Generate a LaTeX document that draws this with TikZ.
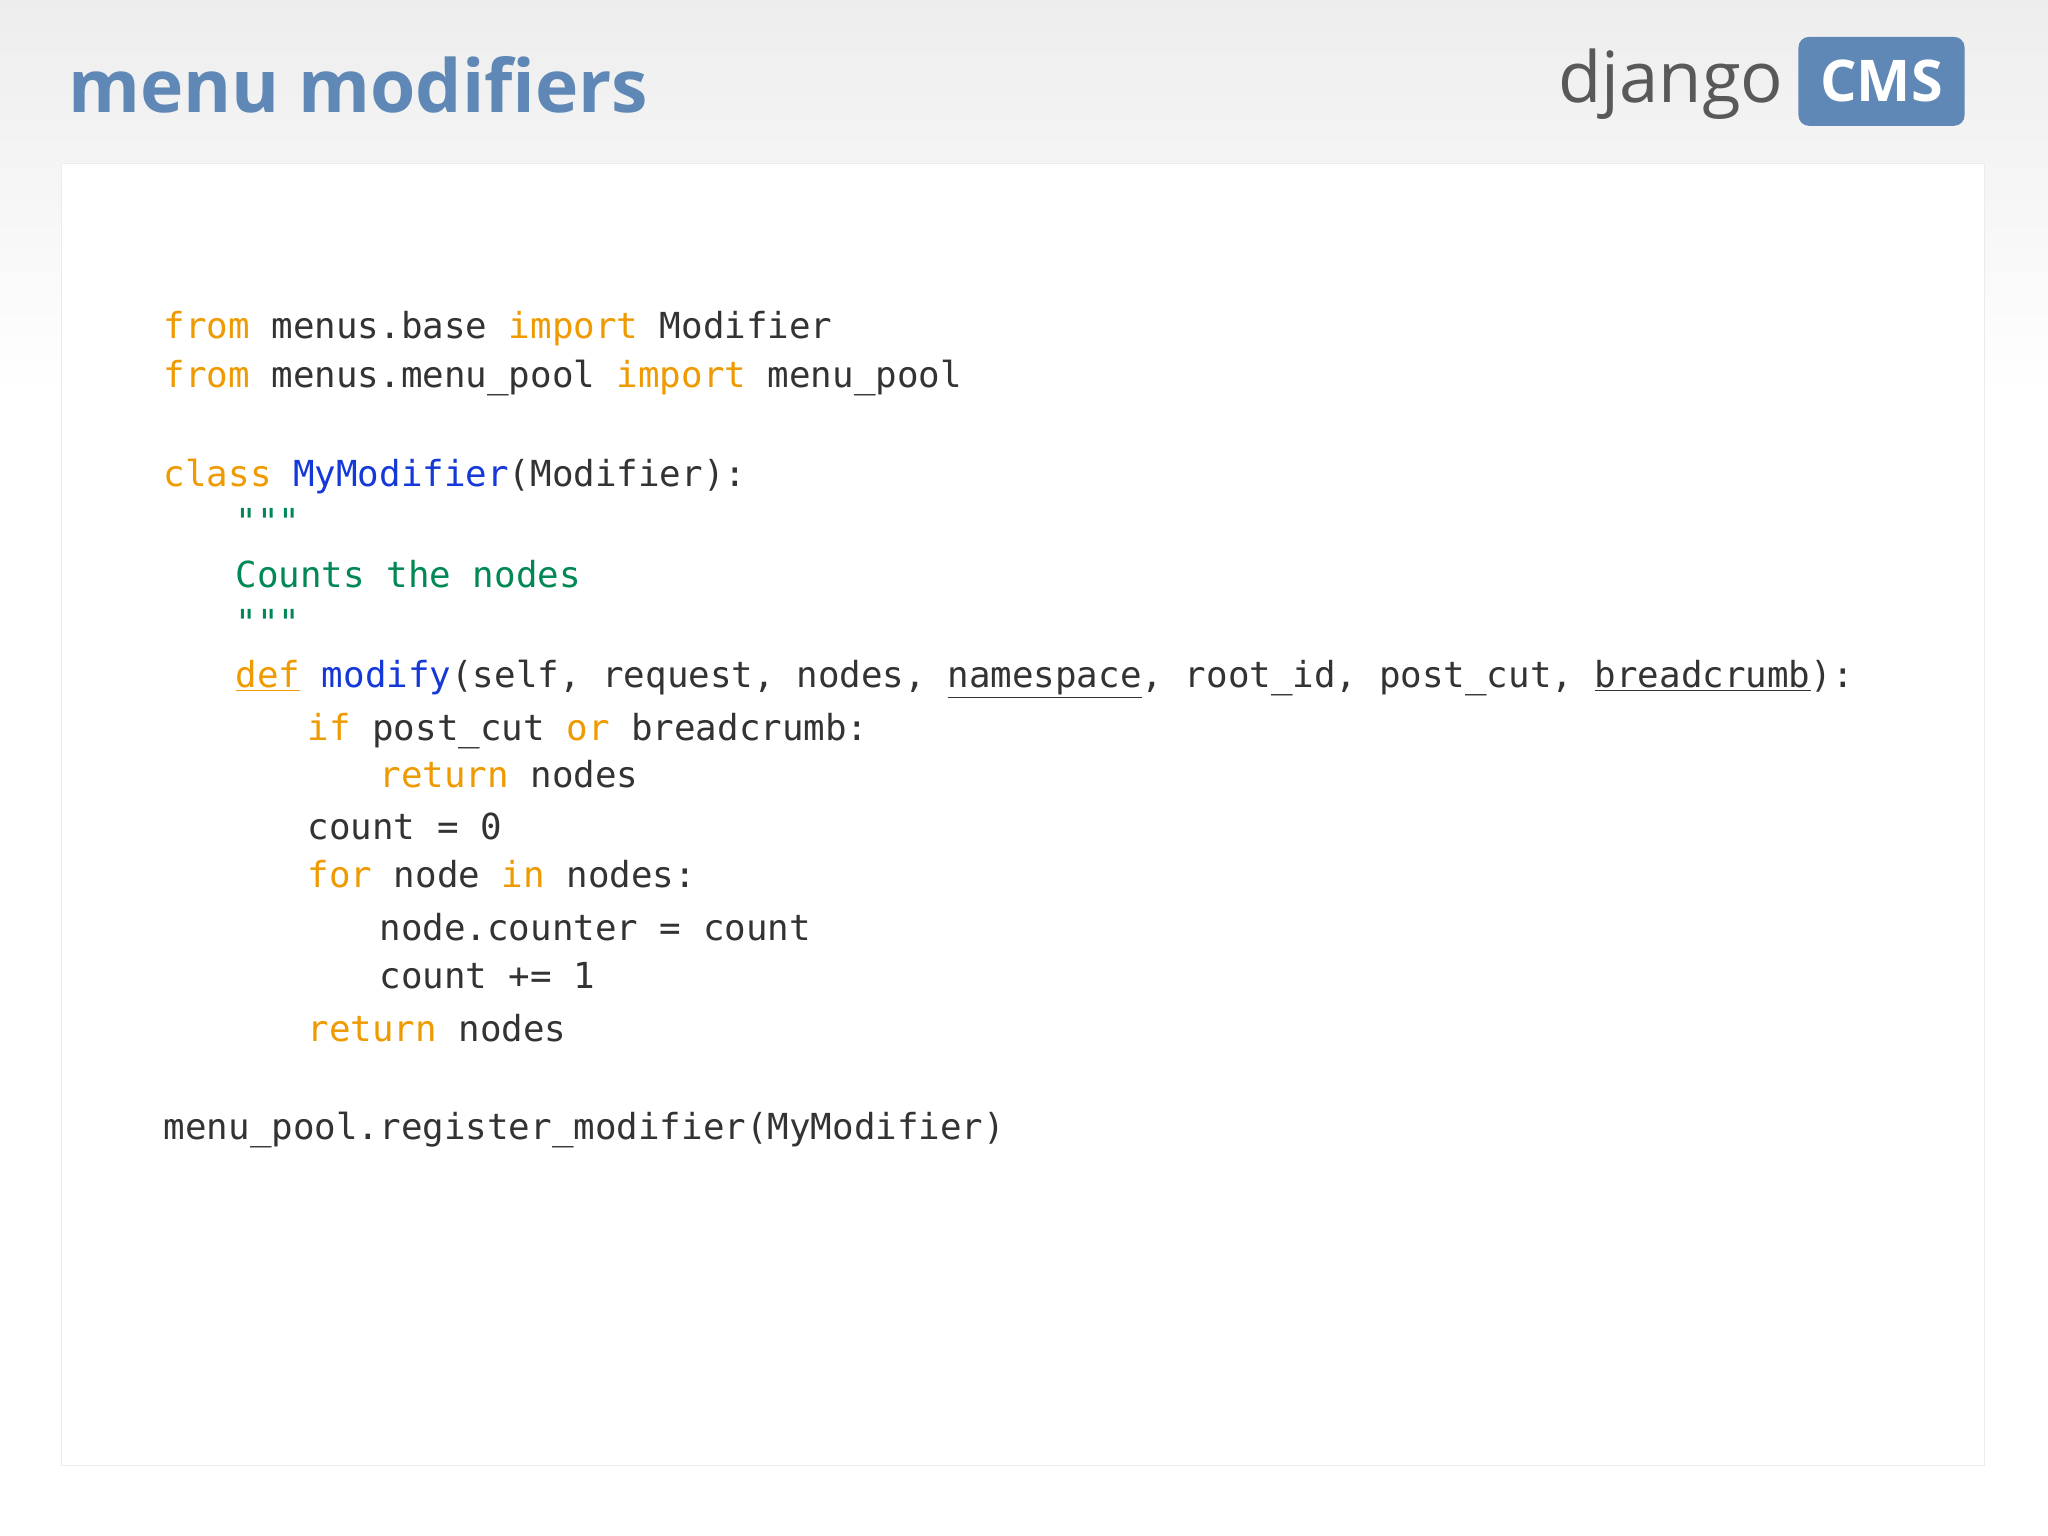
\documentclass[tikz,border=0pt]{standalone}
\usepackage{fontspec}
\setmainfont{Open Sans}
\newfontfamily\codefont{DejaVu Sans Mono}
\begin{document}
\begin{tikzpicture}[x=1pt,y=-1pt,
  code/.style={anchor=base west,inner sep=0pt,font=\codefont\fontsize{27.4}{30}\selectfont,text=txt},
]
\definecolor{txt}{HTML}{333333}
\definecolor{kw}{HTML}{EE9A00}
\definecolor{cls}{HTML}{1538D8}
\definecolor{doc}{HTML}{008855}
\definecolor{ttl}{HTML}{5F88B6}
\useasboundingbox (0,0) rectangle (1566,1174);
\shade[top color=black!7,bottom color=white] (0,0) rectangle (1566,300);
\fill[white] (0,300) rectangle (1566,1174);
\node[draw=black!8,fill=white,minimum width=1470,minimum height=995,anchor=north west,inner sep=0pt] (panel) at (47,125) {};
\node[anchor=base west,inner sep=0pt,font=\bfseries\fontsize{56}{60}\selectfont,text=ttl] (title) at (52,86) {menu modifiers};
\node[anchor=base east,inner sep=0pt,font=\fontsize{54}{58}\selectfont,text=black!65] (dj) at (1364,78) {django};
\node[anchor=north west,fill=ttl,rounded corners=8,minimum width=127,minimum height=68,inner sep=0pt,text=white,font=\bfseries\fontsize{44}{48}\selectfont] (cms) at (1375,28) {CMS};
\node[code] (l1) at (125,259) {\textcolor{kw}{from} menus.base \textcolor{kw}{import} Modifier};
\node[code] (l2) at (125,296) {\textcolor{kw}{from} menus.menu\_pool \textcolor{kw}{import} menu\_pool};
\node[code] (l3) at (125,372) {\textcolor{kw}{class} \textcolor{cls}{MyModifier}(Modifier):};
\node[code,text=doc] (l4) at (180,409) {"""};
\node[code,text=doc] (l5) at (180,449) {Counts the nodes};
\node[code,text=doc] (l6) at (180,486) {"""};
\node[code] (l7) at (180,526) {\textcolor{kw}{\underline{def}} \textcolor{cls}{modify}(self, request, nodes, \underline{namespace}, root\_id, post\_cut, \underline{breadcrumb}):};
\node[code] (l8) at (235,566) {\textcolor{kw}{if} post\_cut \textcolor{kw}{or} breadcrumb:};
\node[code] (l9) at (290,602) {\textcolor{kw}{return} nodes};
\node[code] (l10) at (235,642) {count = 0};
\node[code] (l11) at (235,679) {\textcolor{kw}{for} node \textcolor{kw}{in} nodes:};
\node[code] (l12) at (290,719) {node.counter = count};
\node[code] (l13) at (290,756) {count += 1};
\node[code] (l14) at (235,796) {\textcolor{kw}{return} nodes};
\node[code] (l15) at (125,871) {menu\_pool.register\_modifier(MyModifier)};
\end{tikzpicture}
\end{document}
